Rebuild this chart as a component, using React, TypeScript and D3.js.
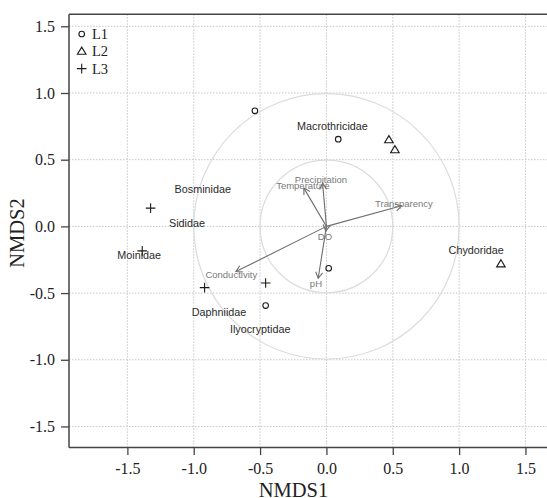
import React, { useEffect, useRef } from 'react';
import * as d3 from 'd3';

// site scores, grouped by lake
const siteX = [-0.539, 0.089, 0.017, -0.458, 0.471, 0.516, 1.315, -1.325, -1.388, -0.918, -0.458];
const siteY = [0.866, 0.654, -0.314, -0.594, 0.649, 0.574, -0.281, 0.137, -0.184, -0.459, -0.424];
const siteGroup = ['L1', 'L1', 'L1', 'L1', 'L2', 'L2', 'L2', 'L3', 'L3', 'L3', 'L3'];
const groups = ['L1', 'L2', 'L3'];

// species scores
const speciesNames = ['Macrothricidae', 'Bosminidae', 'Sididae', 'Moinidae', 'Daphniidae', 'Ilyocryptidae', 'Chydoridae'];
const speciesX = [0.045, -0.932, -1.051, -1.411, -0.809, -0.499, 1.129];
const speciesY = [0.754, 0.284, 0.029, -0.211, -0.641, -0.771, -0.176];

// environmental vectors (arrow tips + label spots)
const vecNames = ['Transparency', 'Precipitation', 'Temperature', 'DO', 'pH', 'Conductivity'];
const vecX = [0.567, -0.029, -0.17, -0.005, -0.062, -0.682];
const vecY = [0.154, 0.324, 0.287, -0.035, -0.389, -0.339];
const vecLabelX = [0.584, -0.041, -0.178, -0.011, -0.079, -0.717];
const vecLabelY = [0.174, 0.354, 0.304, -0.076, -0.431, -0.359];

const circleRadii = [0.5, 1.0];
const tickValues = [-1.5, -1.0, -0.5, 0.0, 0.5, 1.0, 1.5];

const width = 547;
const height = 498;
const serif = '"Liberation Serif", "Times New Roman", serif';
const sans = '"Liberation Sans", Arial, sans-serif';

const App = () => {
    const svgRef = useRef(null);

    useEffect(() => {
        document.body.style.margin = '0';
        const svg = d3.select(svgRef.current);
        svg.selectAll('*').remove();

        const x = d3.scaleLinear().domain([-1.94, 1.7]).range([69, 552]);
        const y = d3.scaleLinear().domain([-1.657, 1.59]).range([447.4, 14.3]);
        const k = x(1) - x(0);

        // grid
        const grid = svg.append('g')
            .attr('stroke', '#c8c8c8').attr('stroke-width', 1).attr('stroke-dasharray', '1.5,1.5');
        tickValues.forEach(v => {
            grid.append('line').attr('x1', x(v)).attr('x2', x(v)).attr('y1', y.range()[1]).attr('y2', y.range()[0]);
            grid.append('line').attr('y1', y(v)).attr('y2', y(v)).attr('x1', x.range()[0]).attr('x2', x.range()[1]);
        });

        // circles
        svg.append('g').selectAll('circle')
            .data(circleRadii).enter().append('circle')
            .attr('cx', x(0)).attr('cy', y(0))
            .attr('r', r => r * k)
            .attr('fill', 'none').attr('stroke', '#dcdcdc').attr('stroke-width', 1.2);

        // vectors
        const vec = svg.append('g').attr('stroke', '#6e6e6e').attr('stroke-width', 1.1).attr('fill', 'none');
        vecNames.forEach((n, i) => {
            const x0 = x(0), y0 = y(0), x1 = x(vecX[i]), y1 = y(vecY[i]);
            vec.append('line').attr('x1', x0).attr('y1', y0).attr('x2', x1).attr('y2', y1);
            const a = Math.atan2(y1 - y0, x1 - x0);
            const hl = 7, ha = Math.PI / 6;
            const p = d3.path();
            p.moveTo(x1 - hl * Math.cos(a - ha), y1 - hl * Math.sin(a - ha));
            p.lineTo(x1, y1);
            p.lineTo(x1 - hl * Math.cos(a + ha), y1 - hl * Math.sin(a + ha));
            vec.append('path').attr('d', p.toString());
        });
        svg.append('g').selectAll('text')
            .data(vecNames).enter().append('text')
            .attr('x', (d, i) => x(vecLabelX[i]))
            .attr('y', (d, i) => y(vecLabelY[i]))
            .attr('text-anchor', 'middle').attr('dominant-baseline', 'central')
            .attr('font-family', sans).attr('font-size', 9.5).attr('fill', '#7a7a7a')
            .text(d => d);

        // species
        svg.append('g').selectAll('text')
            .data(speciesNames).enter().append('text')
            .attr('x', (d, i) => x(speciesX[i]))
            .attr('y', (d, i) => y(speciesY[i]))
            .attr('text-anchor', 'middle').attr('dominant-baseline', 'central')
            .attr('font-family', sans).attr('font-size', 10.8).attr('fill', '#2a2a2a')
            .text(d => d);

        // site symbols
        const symbol = (g, cx, cy, grp) => {
            if (grp === 'L1') {
                g.append('circle').attr('cx', cx).attr('cy', cy).attr('r', 2.8);
            } else if (grp === 'L2') {
                g.append('path').attr('d', `M${cx},${cy - 4.2}L${cx + 4.3},${cy + 3}L${cx - 4.3},${cy + 3}Z`);
            } else {
                g.append('path').attr('d', `M${cx - 4.8},${cy}H${cx + 4.8}M${cx},${cy - 4.8}V${cy + 4.8}`);
            }
        };
        const pts = svg.append('g').attr('fill', 'none').attr('stroke', '#1a1a1a').attr('stroke-width', 1.1);
        siteX.forEach((v, i) => symbol(pts, x(v), y(siteY[i]), siteGroup[i]));

        // legend
        const leg = svg.append('g');
        groups.forEach((gname, i) => {
            const ry = 34 + i * 17.3;
            symbol(leg.append('g').attr('fill', 'none').attr('stroke', '#1a1a1a').attr('stroke-width', 1.1), 81.7, ry, gname);
            leg.append('text').attr('x', 92).attr('y', ry + 5)
                .attr('font-family', serif).attr('font-size', 14.5).attr('fill', '#222')
                .text(gname);
        });

        // axes
        const fmt = d => d.toFixed(1);
        const xAxis = svg.append('g').attr('transform', `translate(0,${y.range()[0]})`)
            .call(d3.axisBottom(x).tickValues(tickValues).tickFormat(fmt).tickSize(7.7).tickSizeOuter(0).tickPadding(7.5));
        const yAxis = svg.append('g').attr('transform', `translate(${x.range()[0]},0)`)
            .call(d3.axisLeft(y).tickValues(tickValues).tickFormat(fmt).tickSize(8).tickSizeOuter(0).tickPadding(6));
        [xAxis, yAxis].forEach(ax => {
            ax.select('.domain').remove();
            ax.selectAll('line').attr('stroke', '#444').attr('stroke-width', 1.3);
            ax.selectAll('text').attr('font-family', serif).attr('font-size', 16).attr('fill', '#222');
        });

        // frame
        const frame = svg.append('g').attr('stroke', '#444').attr('stroke-width', 1.5);
        frame.append('line').attr('x1', x.range()[0]).attr('x2', x.range()[1]).attr('y1', y.range()[0]).attr('y2', y.range()[0]);
        frame.append('line').attr('x1', x.range()[0]).attr('x2', x.range()[1]).attr('y1', y.range()[1]).attr('y2', y.range()[1]);
        frame.append('line').attr('x1', x.range()[0]).attr('x2', x.range()[0]).attr('y1', y.range()[1]).attr('y2', y.range()[0]);

        // axis titles
        svg.append('text').attr('x', 293.5).attr('y', 496.5)
            .attr('text-anchor', 'middle').attr('font-family', serif).attr('font-size', 20.5).attr('fill', '#222')
            .text('NMDS1');
        svg.append('text').attr('transform', 'translate(24,233) rotate(-90)')
            .attr('text-anchor', 'middle').attr('font-family', serif).attr('font-size', 20.5).attr('fill', '#222')
            .text('NMDS2');
    }, []);

    return (
        <svg ref={svgRef} width={width} height={height} style={{ display: 'block' }}></svg>
    );
};

export default App;
